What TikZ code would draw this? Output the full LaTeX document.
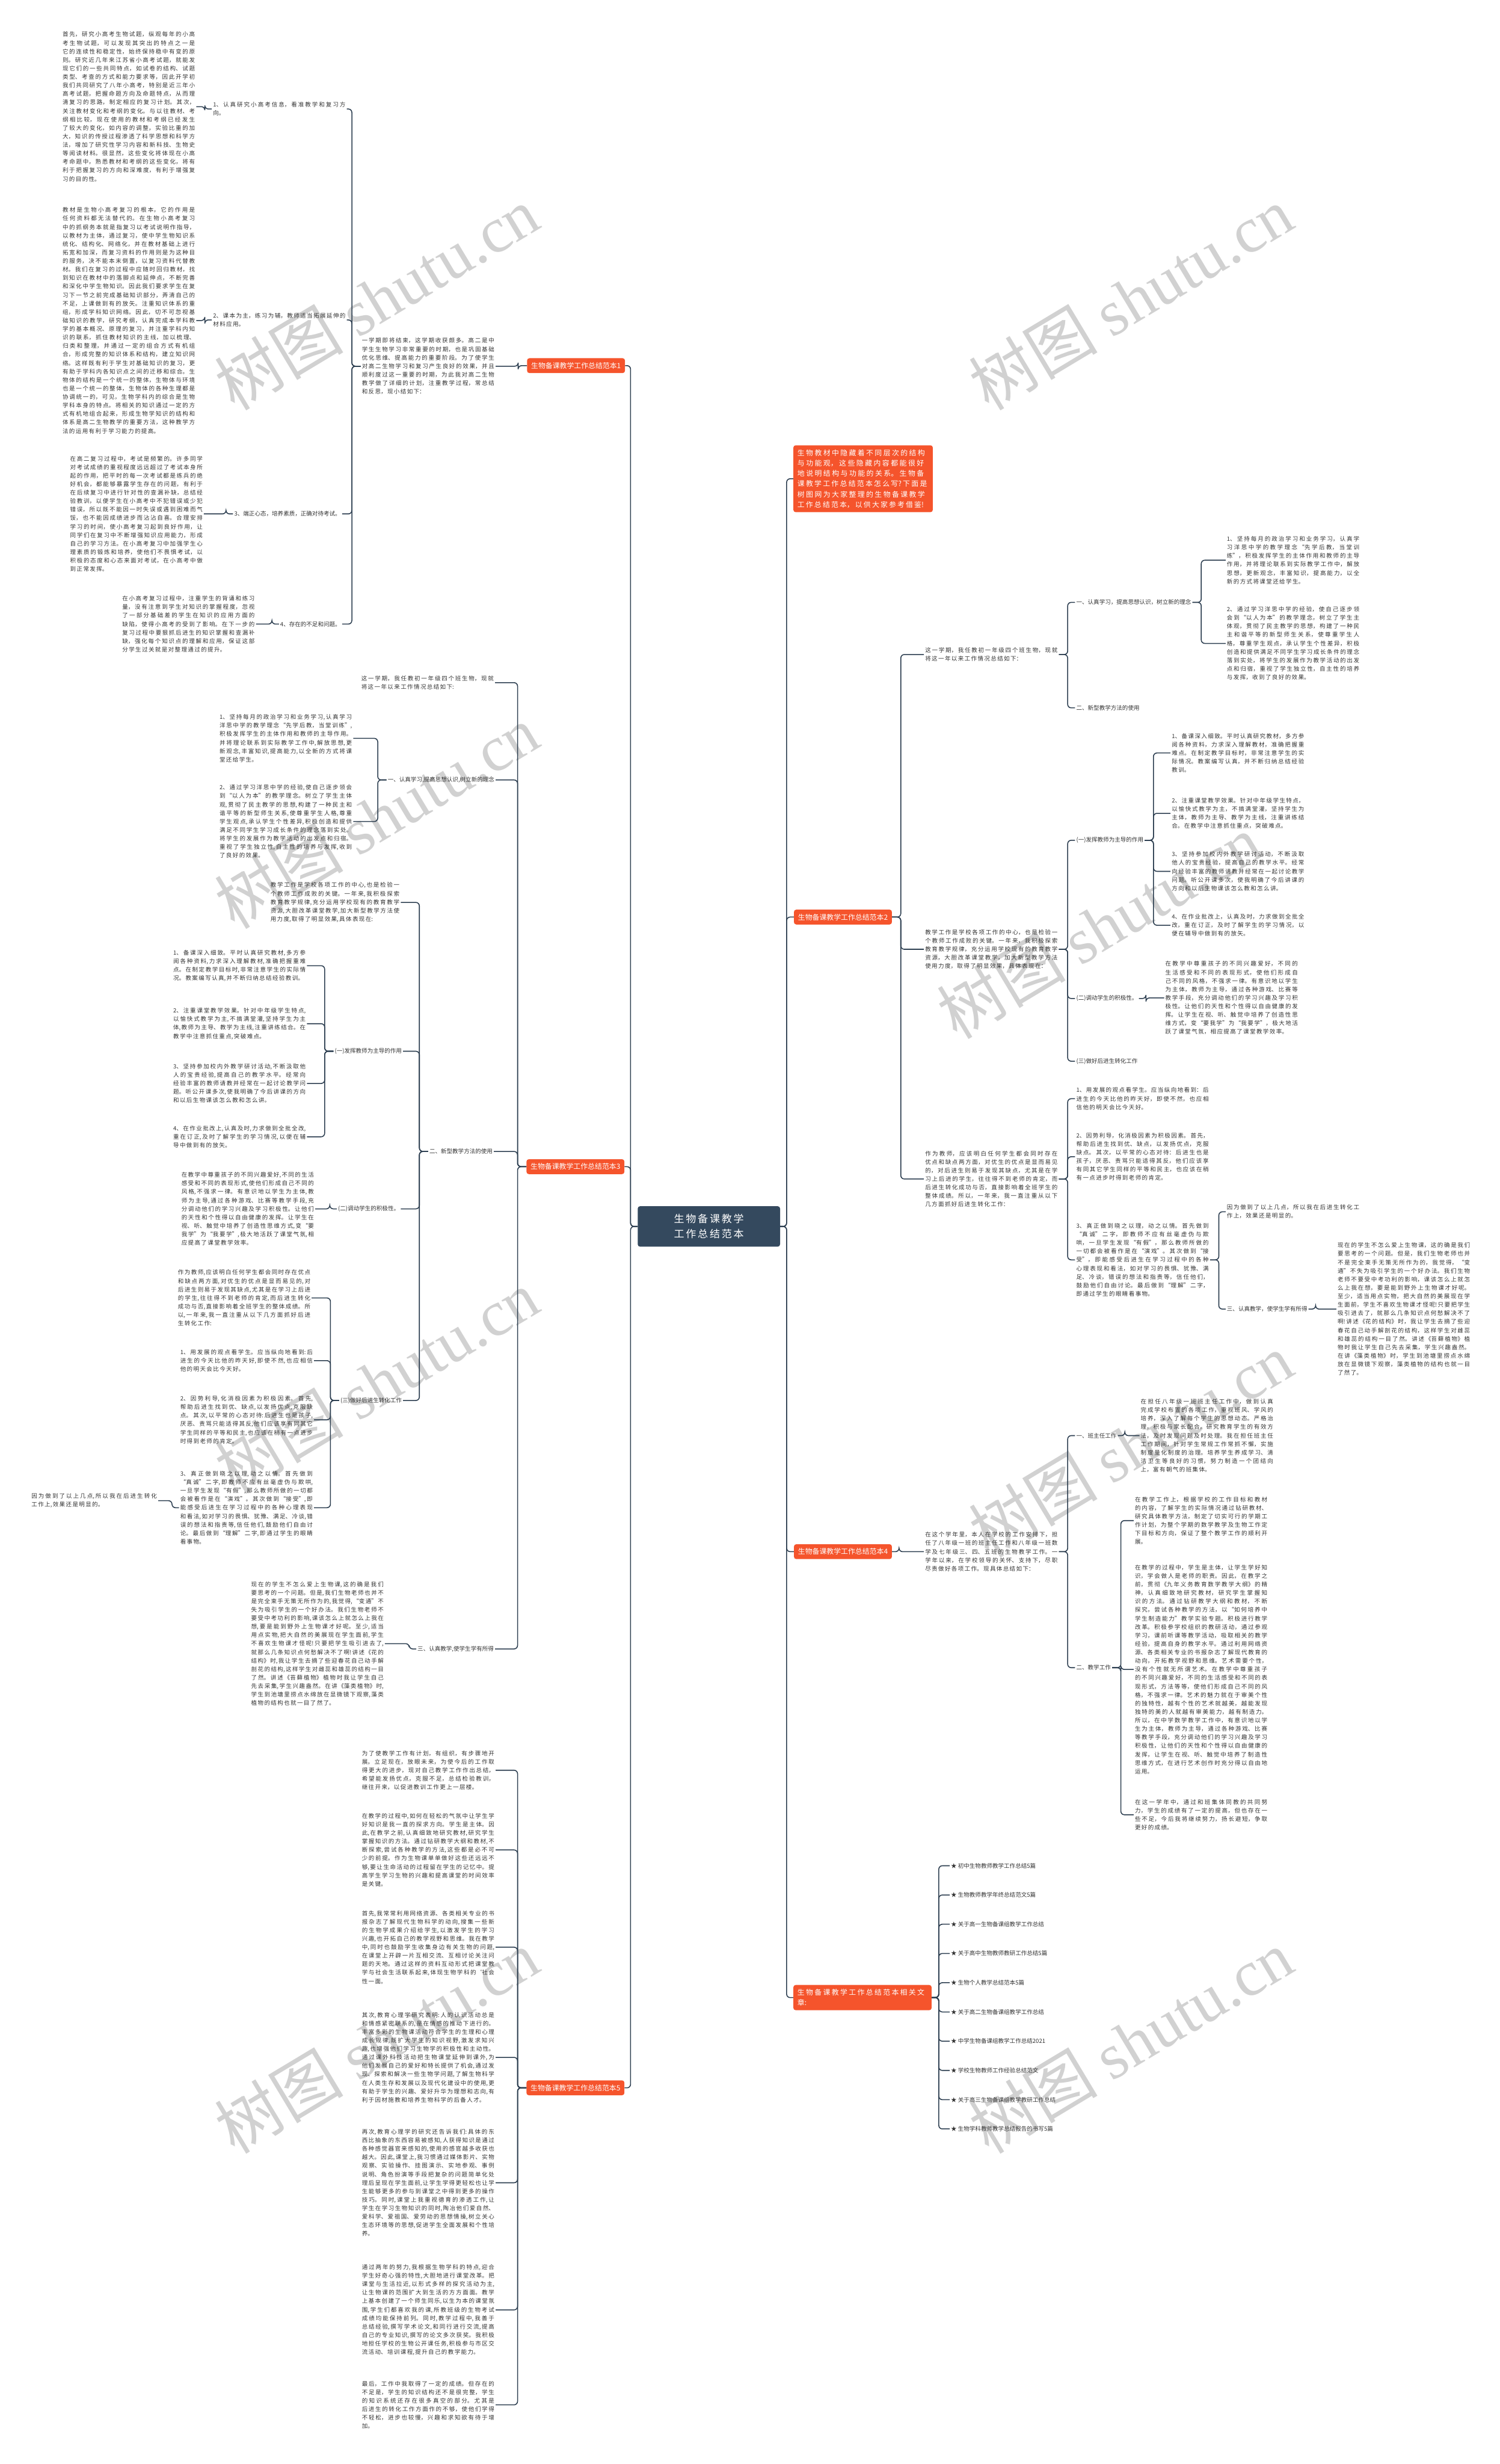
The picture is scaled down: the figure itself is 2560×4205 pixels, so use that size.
\documentclass[tikz,border=0pt]{standalone}
\usepackage{fontspec}
\setmainfont{Noto Sans CJK SC}
\newfontfamily\wmlatin{Liberation Serif}
\XeTeXlinebreaklocale "zh"
\XeTeXlinebreakskip=0pt plus 1pt
\usetikzlibrary{positioning}

\definecolor{rootblue}{RGB}{52,73,94}
\definecolor{branchred}{RGB}{245,84,44}
\definecolor{linkdark}{RGB}{44,62,80}

% spacing between CJK characters
\newcommand\cjkgap[1]{\XeTeXlinebreakskip #1\relax}

\tikzset{
  root/.style={fill=rootblue, text=white, rounded corners=4pt, align=center,
    text width=212pt, minimum width=243pt, minimum height=69pt,
    font=\fontsize{17.5}{26}\selectfont\cjkgap{1.5pt plus 1pt}},
  branch/.style={fill=branchred, text=white, rounded corners=4pt,
    inner xsep=7pt, inner ysep=7pt,
    font=\fontsize{12.2}{17.7}\selectfont\cjkgap{2.2pt plus 1pt}},
  para/.style={text width=226pt, align=justify, text=black!80,
    inner xsep=2pt, inner ysep=1pt,
    font=\fontsize{9.8}{14.5}\selectfont\cjkgap{1.4pt plus 1pt}},
  tag/.style={text=black!80, inner xsep=2pt, inner ysep=1pt,
    font=\fontsize{9.8}{14.5}\selectfont\cjkgap{1.4pt plus 1pt}},
  link/.style={draw=linkdark, line width=1.6pt, rounded corners=6pt},
  wmtext/.style={text=black!18, rotate=31, font=\fontsize{110}{110}\selectfont}
}

\begin{document}
\begin{tikzpicture}[x=1pt,y=-1pt]
  \useasboundingbox (0,0) rectangle (2560,4205);

  % watermarks
  \foreach \wx/\wy in {643/509, 1930/509, 643/1394, 1876/1581, 643/2358, 1930/2466, 643/3484, 1930/3484}
    \node[wmtext] (wm) at (\wx,\wy) {树图 {\wmlatin shutu.cn}};

  % centre
  \node[root] (root) at (1210,2093) {生物备课教学工作总结范本};

  % ---------------- left side ----------------
  \node[branch, anchor=east] (b1) at (1067,624) {生物备课教学工作总结范本1};
  \node[branch, anchor=east] (b3) at (1066,1991) {生物备课教学工作总结范本3};
  \node[branch, anchor=east] (b5) at (1066,3563) {生物备课教学工作总结范本5};

  % branch 1
  \node[para, anchor=east] (b1lead) at (846,625) {一学期即将结束，这学期收获颇多。高二是中学生生物学习非常重要的时期，也是巩固基础优化思维、提高能力的重要阶段。为了使学生对高二生物学习和复习产生良好的效果，并且顺利度过这一重要的时期，为此我对高二生物教学做了详细的计划，注重教学过程，常总结和反思，现小结如下：};
  \node[para, anchor=east] (b1i1) at (592,186) {1、认真研究小高考信息，看准教学和复习方向。};
  \node[para, anchor=east] (b1i2) at (592,546) {2、课本为主，练习为辅，教师适当拓展延伸的材料应用。};
  \node[tag, anchor=east] (b1i3) at (584,877) {3、端正心态，培养素质，正确对待考试。};
  \node[tag, anchor=east] (b1i4) at (584,1065) {4、存在的不足和问题。};
  \node[para, anchor=east] (p1) at (335,182) {首先，研究小高考生物试题，纵观每年的小高考生物试题，可以发现其突出的特点之一是它的连续性和稳定性，始终保持稳中有变的原则。研究近几年来江苏省小高考试题，就能发现它们的一些共同特点，如试卷的结构、试题类型、考查的方式和能力要求等，因此开学初我们共同研究了八年小高考，特别是近三年小高考试题，把握命题方向及命题特点，从而理清复习的思路，制定相应的复习计划。其次，关注教材变化和考纲的变化。与以往教材、考纲相比较，现在使用的教材和考纲已经发生了较大的变化，如内容的调整，实验比重的加大，知识的传授过程渗透了科学思想和科学方法，增加了研究性学习内容和新科技、生物史等阅读材料。很显然，这些变化将体现在小高考命题中，熟悉教材和考纲的这些变化，将有利于把握复习的方向和深难度，有利于增强复习的目的性。};
  \node[para, anchor=east] (p2) at (335,547) {教材是生物小高考复习的根本，它的作用是任何资料都无法替代的。在生物小高考复习中的抓纲务本就是指复习以考试说明作指导，以教材为主体，通过复习，使中学生物知识系统化、结构化、网络化，并在教材基础上进行拓宽和加深，而复习资料的作用则是为这种目的服务，决不能本末倒置，以复习资料代替教材。我们在复习的过程中应随时回归教材，找到知识在教材中的落脚点和延伸点，不断完善和深化中学生物知识。因此我们要求学生在复习下一节之前完成基础知识部分，弄清自己的不足，上课做到有的放矢。注重知识体系的重组，形成学科知识网络。因此，切不可忽视基础知识的教学，研究考纲，认真完成本学科教学的基本概况、原理的复习，并注重学科内知识的联系，抓住教材知识的主线，加以梳理、归类和整理，并通过一定的组合方式有机组合，形成完整的知识体系和结构，建立知识网络。这样既有利于学生对基础知识的复习，更有助于学科内各知识点之间的迁移和综合。生物体的结构是一个统一的整体，生物体与环境也是一个统一的整体，生物体的各种生理都是协调统一的，可见，生物学科内的综合是生物学科本身的特点。将相关的知识通过一定的方式有机地组合起来，形成生物学知识的结构和体系是高二生物教学的重要方法，这种教学方法的运用有利于学习能力的提高。};
  \node[para, anchor=east] (p3) at (348,877) {在高二复习过程中，考试是频繁的。许多同学对考试成绩的重视程度远远超过了考试本身所起的作用，把平时的每一次考试都是练兵的绝好机会，都能够暴露学生存在的问题，有利于在后续复习中进行针对性的查漏补缺，总结经验教训，以便学生在小高考中不犯错误或少犯错误，所以既不能因一时失误或遇到困难而气馁，也不能因成绩进步而沾沾自喜。合理安排学习的时间，使小高考复习起到良好作用，让同学们在复习中不断增强知识应用能力，形成自己的学习方法。在小高考复习中加强学生心理素质的锻炼和培养，使他们不畏惧考试，以积极的态度和心态来面对考试，在小高考中做到正常发挥。};
  \node[para, anchor=east] (p4) at (437,1065) {在小高考复习过程中，注重学生的背诵和练习量，没有注意到学生对知识的掌握程度，忽视了一部分基础差的学生在知识的应用方面的缺陷，使得小高考的受到了影响。在下一步的复习过程中要狠抓后进生的知识掌握和查漏补缺，强化每个知识点的理解和应用，保证这部分学生过关就是对整理通过的提升。};

  % branch 3
  \node[para, anchor=east] (b3a) at (845,1165) {这一学期，我任教初一年级四个班生物，现就将这一年以来工作情况总结如下:};
  \node[tag, anchor=east] (b3b) at (846,1331) {一、认真学习,提高思想认识,树立新的理念};
  \node[para, anchor=east] (b3b1) at (603,1260) {1、坚持每月的政治学习和业务学习,认真学习洋思中学的教学理念“先学后教，当堂训练”,积极发挥学生的主体作用和教师的主导作用。并将理论联系到实际教学工作中,解放思想,更新观念,丰富知识,提高能力,以全新的方式将课堂还给学生。};
  \node[para, anchor=east] (b3b2) at (603,1402) {2、通过学习洋思中学的经验,使自己逐步领会到“以人为本”的教学理念。树立了学生主体观,贯彻了民主教学的思想,构建了一种民主和谐平等的新型师生关系,使尊重学生人格,尊重学生观点,承认学生个性差异,积极创造和提供满足不同学生学习成长条件的理念落到实处。将学生的发展作为教学活动的出发点和归宿。重视了学生独立性,自主性的培养与发挥,收到了良好的效果。};
  \node[tag, anchor=east] (b3c) at (843,1965) {二、新型教学方法的使用};
  \node[para, text width=220pt, anchor=east] (b3c0) at (684,1540) {教学工作是学校各项工作的中心,也是检验一个教师工作成败的关键。一年来,我积极探索教育教学规律,充分运用学校现有的教育教学资源,大胆改革课堂教学,加大新型教学方法使用力度,取得了明显效果,具体表现在:};
  \node[tag, anchor=east] (b3c1) at (688,1794) {(一)发挥教师为主导的作用};
  \node[para, anchor=east] (b3c1a) at (524,1648) {1、备课深入细致。平时认真研究教材,多方参阅各种资料,力求深入理解教材,准确把握重难点。在制定教学目标时,非常注意学生的实际情况。教案编写认真,并不断归纳总结经验教训。};
  \node[para, anchor=east] (b3c1b) at (524,1747) {2、注重课堂教学效果。针对中年级学生特点,以愉快式教学为主,不搞满堂灌,坚持学生为主体,教师为主导、教学为主线,注重讲练结合。在教学中注意抓住重点,突破难点。};
  \node[para, anchor=east] (b3c1c) at (524,1849) {3、坚持参加校内外教学研讨活动,不断汲取他人的宝贵经验,提高自己的教学水平。经常向经验丰富的教师请教并经常在一起讨论教学问题。听公开课多次,使我明确了今后讲课的方向和以后生物课该怎么教和怎么讲。};
  \node[para, anchor=east] (b3c1d) at (524,1940) {4、在作业批改上,认真及时,力求做到全批全改,重在订正,及时了解学生的学习情况,以便在辅导中做到有的放矢。};
  \node[tag, anchor=east] (b3c2) at (684,2063) {(二)调动学生的积极性。};
  \node[para, anchor=east] (b3c2a) at (538,2063) {在教学中尊重孩子的不同兴趣爱好,不同的生活感受和不同的表现形式,使他们形成自己不同的风格,不强求一律。有意识地以学生为主体,教师为主导,通过各种游戏、比赛等教学手段,充分调动他们的学习兴趣及学习积极性。让他们的天性和个性得以自由健康的发挥。让学生在视、听、触觉中培养了创造性思维方式,变“要我学”为“我要学”,极大地活跃了课堂气氛,相应提高了课堂教学效率。};
  \node[tag, anchor=east] (b3c3) at (688,2390) {(三)做好后进生转化工作};
  \node[para, anchor=east] (b3c3a) at (532,2215) {作为教师,应该明白任何学生都会同时存在优点和缺点两方面,对优生的优点是显而易见的,对后进生则易于发现其缺点,尤其是在学习上后进的学生,往往得不到老师的肯定,而后进生转化成功与否,直接影响着全班学生的整体成绩。所以,一年来,我一直注重从以下几方面抓好后进生转化工作:};
  \node[para, anchor=east] (b3c3b) at (536,2322) {1、用发展的观点看学生。应当纵向地看到:后进生的今天比他的昨天好,即使不然,也应相信他的明天会比今天好。};
  \node[para, anchor=east] (b3c3c) at (536,2423) {2、因势利导,化消极因素为积极因素。 首先,帮助后进生找到优、缺点,以发扬优点,克服缺点。 其次,以平常的心态对待:后进生也是孩子,厌恶、责骂只能适得其反,他们应该享有同其它学生同样的平等和民主,也应该在稍有一点进步时得到老师的肯定。};
  \node[para, anchor=east] (b3c3d) at (536,2573) {3、真正做到晓之以理,动之以情。首先做到“真诚”二字,即教师不应有丝毫虚伪与欺哄,一旦学生发现“有假”,那么教师所做的一切都会被看作是在“演戏”。其次做到“接受”,即能感受后进生在学习过程中的各种心理表现和看法,如对学习的畏惧、犹豫、满足、冷谈,错误的想法和指责等,信任他们,鼓励他们自由讨论。最后做到“理解”二字,即通过学生的眼睛看事物。};
  \node[para, text width=214pt, anchor=east] (b3c3e) at (270,2561) {因为做到了以上几点,所以我在后进生转化工作上,效果还是明显的。};
  \node[tag, anchor=east] (b3d) at (845,2814) {三、认真教学,使学生学有所得};
  \node[para, anchor=east] (b3da) at (657,2805) {现在的学生不怎么爱上生物课,这的确是我们要思考的一个问题。但是,我们生物老师也并不是完全束手无策无所作为的,我觉得,“变通”不失为吸引学生的一个好办法。我们生物老师不要受中考功利的影响,课该怎么上就怎么上我在想,要是能到野外上生物课才好呢。至少,适当用点实物,把大自然的美展现在学生面前,学生不喜欢生物课才怪呢!只要把学生吸引进去了,就那么几条知识点何愁解决不了啊!讲述《花的结构》时,我让学生去摘了些迎春花自己动手解剖花的结构,这样学生对雌蕊和雄蕊的结构一目了然。讲述《苔藓植物》植物时我让学生自己先去采集,学生兴趣盎然。在讲《藻类植物》时,学生到池塘里捞点水绵放在显微镜下观察,藻类植物的结构也就一目了然了。};

  % branch 5
  \node[para, anchor=east] (b5a) at (846,3021) {为了使教学工作有计划，有组织，有步骤地开展。立足现在，放眼未来，为使今后的工作取得更大的进步，现对自己教学工作作出总结，希望能发扬优点，克服不足，总结检验教训，继往开来，以促进教训工作更上一层楼。};
  \node[para, anchor=east] (b5b) at (846,3157) {在教学的过程中,如何在轻松的气氛中让学生学好知识是我一直的探求方向。学生是主体。因此,在教学之前,认真细致地研究教材,研究学生掌握知识的方法。通过钻研教学大纲和教材,不断探索,尝试各种教学的方法,这些都是必不可少的前提。作为生物课单单做好这些还远远不够,要让生命活动的过程留在学生的记忆中。提高学生学习生物的兴趣和提高课堂的时间效率是关键。};
  \node[para, anchor=east] (b5c) at (846,3323) {首先,我常常利用网络资源、各类相关专业的书报杂志了解现代生物科学的动向,搜集一些新的生物学成果介绍给学生,以激发学生的学习兴趣,也开拓自己的教学视野和思维。我在教学中,同时也鼓励学生收集身边有关生物的问题,在课堂上开辟一片互相交流、互相讨论关注问题的天地。通过这样的资料互动形式把课堂教学与社会生活联系起来,体现生物学科的‘社会性一面。};
  \node[para, anchor=east] (b5d) at (846,3511) {其次,教育心理学研究表明:人的认识活动总是和情感紧密联系的,是在情感的推动下进行的。丰富多彩的生物课活动符合学生的生理和心理成长规律,既扩大学生的知识视野,激发求知兴趣,也增强他们学习生物学的积极性和主动性。通过课外科技活动把生物课堂延伸到课外,为他们发展自己的爱好和特长提供了机会,通过发现、探索和解决一些生物学问题,了解生物科学在人类生存和发展以及现代化建设中的使用,更有助于学生的兴趣、爱好升华为理想和志向,有利于因材施教和培养生物科学的后备人才。};
  \node[para, anchor=east] (b5e) at (846,3725) {再次,教育心理学的研究还告诉我们:具体的东西比抽象的东西容易被感知,人获得知识是通过各种感觉器官来感知的,使用的感官越多收获也越大。因此,课堂上,我习惯通过媒体影片、实物观察、实验操作、挂图演示、实地参观、事例说明、角色扮演等手段把复杂的问题简单化处理后呈现在学生面前,让学生学得更轻松也让学生能够更多的参与到课堂之中得到更多的操作技巧。同时,课堂上我重视德育的渗透工作,让学生在学习生物知识的同时,陶冶他们爱自然、爱科学、爱祖国、爱劳动的思想情操,树立关心生态环境等的思想,促进学生全面发展和个性培养。};
  \node[para, anchor=east] (b5f) at (846,3942) {通过两年的努力,我根据生物学科的特点,迎合学生好奇心强的特性,大胆地进行课堂改革。把课堂与生活拉近,以形式多样的探究活动为主,让生物课的范围扩大到生活的方方面面。教学上基本创建了一个师生同乐,以生为本的课堂氛围,学生们都喜欢我的课,所教班级的生物考试成绩均能保持前列。同时,教学过程中,我善于总结经验,撰写学术论文,和同行进行交流,提高自己的专业知识,撰写的论文多次获奖。我积极地担任学校的生物公开课任务,积极参与市区交流活动、培训课程,提升自己的教学能力。};
  \node[para, anchor=east] (b5g) at (846,4104) {最后，工作中我取得了一定的成绩。但存在的不足是，学生的知识结构还不是很完整，学生的知识系统还存在很多真空的部分。尤其是后进生的转化工作方面作的不够，使他们学得不轻松，进步也较慢，兴趣和求知欲有待于增加。};

  % ---------------- right side ----------------
  \node[branch, text width=224pt, anchor=west] (intro) at (1354,817) {生物教材中隐藏着不同层次的结构与功能观，这些隐藏内容都能很好地说明结构与功能的关系。生物备课教学工作总结范本怎么写?下面是树图网为大家整理的生物备课教学工作总结范本，以供大家参考借鉴!};
  \node[branch, anchor=west] (b2) at (1355,1565) {生物备课教学工作总结范本2};
  \node[branch, anchor=west] (b4) at (1355,2648) {生物备课教学工作总结范本4};
  \node[branch, text width=222pt, anchor=west] (rel) at (1354,3409) {生物备课教学工作总结范本相关文章:};

  % branch 2
  \node[para, anchor=west] (b2a) at (1577,1117) {这一学期，我任教初一年级四个班生物，现就将这一年以来工作情况总结如下：};
  \node[tag, anchor=west] (b2a1) at (1835,1028) {一、认真学习，提高思想认识，树立新的理念};
  \node[para, anchor=west] (b2a1a) at (2092,956) {1、坚持每月的政治学习和业务学习，认真学习洋思中学的教学理念“先学后教，当堂训练”，积极发挥学生的主体作用和教师的主导作用，并将理论联系到实际教学工作中，解放思想，更新观念，丰富知识，提高能力，以全新的方式将课堂还给学生。};
  \node[para, anchor=west] (b2a1b) at (2092,1098) {2、通过学习洋思中学的经验，使自己逐步领会到“以人为本”的教学理念，树立了学生主体观，贯彻了民主教学的思想，构建了一种民主和谐平等的新型师生关系，使尊重学生人格，尊重学生观点，承认学生个性差异，积极创造和提供满足不同学生学习成长条件的理念落到实处，将学生的发展作为教学活动的出发点和归宿，重视了学生独立性，自主性的培养与发挥，收到了良好的效果。};
  \node[tag, anchor=west] (b2a2) at (1835,1208) {二、新型教学方法的使用};
  \node[para, anchor=west] (b2b) at (1577,1620) {教学工作是学校各项工作的中心，也是检验一个教师工作成败的关键。一年来，我积极探索教育教学规律，充分运用学校现有的教育教学资源，大胆改革课堂教学，加大新型教学方法使用力度，取得了明显效果，具体表现在：};
  \node[tag, anchor=west] (b2b1) at (1835,1434) {(一)发挥教师为主导的作用};
  \node[para, anchor=west] (b2b1a) at (1998,1285) {1、备课深入细致。平时认真研究教材，多方参阅各种资料，力求深入理解教材，准确把握重难点。在制定教学目标时，非常注意学生的实际情况。教案编写认真，并不断归纳总结经验教训。};
  \node[para, anchor=west] (b2b1b) at (1998,1388) {2、注重课堂教学效果。针对中年级学生特点，以愉快式教学为主，不搞满堂灌，坚持学生为主体，教师为主导、教学为主线，注重讲练结合。在教学中注意抓住重点，突破难点。};
  \node[para, anchor=west] (b2b1c) at (1998,1487) {3、坚持参加校内外教学研讨活动，不断汲取他人的宝贵经验，提高自己的教学水平。经常向经验丰富的教师请教并经常在一起讨论教学问题。听公开课多次，使我明确了今后讲课的方向和以后生物课该怎么教和怎么讲。};
  \node[para, anchor=west] (b2b1d) at (1998,1579) {4、在作业批改上，认真及时，力求做到全批全改，重在订正，及时了解学生的学习情况，以便在辅导中做到有的放矢。};
  \node[tag, anchor=west] (b2b2) at (1835,1704) {(二)调动学生的积极性。};
  \node[para, anchor=west] (b2b2a) at (1987,1703) {在教学中尊重孩子的不同兴趣爱好，不同的生活感受和不同的表现形式，使他们形成自己不同的风格，不强求一律。有意识地以学生为主体，教师为主导，通过各种游戏、比赛等教学手段，充分调动他们的学习兴趣及学习积极性。让他们的天性和个性得以自由健康的发挥。让学生在视、听、触觉中培养了创造性思维方式，变“要我学”为“我要学”，极大地活跃了课堂气氛，相应提高了课堂教学效率。};
  \node[tag, anchor=west] (b2b3) at (1835,1811) {(三)做好后进生转化工作};
  \node[para, anchor=west] (b2c) at (1577,2012) {作为教师，应该明白任何学生都会同时存在优点和缺点两方面，对优生的优点是显而易见的，对后进生则易于发现其缺点，尤其是在学习上后进的学生，往往得不到老师的肯定，而后进生转化成功与否，直接影响着全班学生的整体成绩。所以，一年来，我一直注重从以下几方面抓好后进生转化工作：};
  \node[para, anchor=west] (b2c1) at (1835,1875) {1、用发展的观点看学生。应当纵向地看到：后进生的今天比他的昨天好，即使不然，也应相信他的明天会比今天好。};
  \node[para, anchor=west] (b2c2) at (1835,1974) {2、因势利导，化消极因素为积极因素。 首先，帮助后进生找到优、缺点，以发扬优点，克服缺点。 其次，以平常的心态对待：后进生也是孩子，厌恶、责骂只能适得其反，他们应该享有同其它学生同样的平等和民主，也应该在稍有一点进步时得到老师的肯定。};
  \node[para, anchor=west] (b2c3) at (1835,2150) {3、真正做到晓之以理，动之以情。首先做到“真诚”二字，即教师不应有丝毫虚伪与欺哄，一旦学生发现“有假”，那么教师所做的一切都会被看作是在“演戏”。其次做到“接受”，即能感受后进生在学习过程中的各种心理表现和看法，如对学习的畏惧、犹豫、满足、冷谈，错误的想法和指责等，信任他们，鼓励他们自由讨论。最后做到“理解”二字，即通过学生的眼睛看事物。};
  \node[para, anchor=west] (b2c3a) at (2092,2068) {因为做到了以上几点，所以我在后进生转化工作上，效果还是明显的。};
  \node[tag, anchor=west] (b2c3b) at (2092,2234) {三、认真教学，使学生学有所得};
  \node[para, anchor=west] (b2c3c) at (2281,2234) {现在的学生不怎么爱上生物课，这的确是我们要思考的一个问题。但是，我们生物老师也并不是完全束手无策无所作为的，我觉得，“变通”不失为吸引学生的一个好办法。我们生物老师不要受中考功利的影响，课该怎么上就怎么上我在想，要是能到野外上生物课才好呢。至少，适当用点实物，把大自然的美展现在学生面前，学生不喜欢生物课才怪呢!只要把学生吸引进去了，就那么几条知识点何愁解决不了啊!讲述《花的结构》时，我让学生去摘了些迎春花自己动手解剖花的结构，这样学生对雌蕊和雄蕊的结构一目了然。讲述《苔藓植物》植物时我让学生自己先去采集，学生兴趣盎然。在讲《藻类植物》时，学生到池塘里捞点水绵放在显微镜下观察，藻类植物的结构也就一目了然了。};

  % branch 4
  \node[para, anchor=west] (b4a) at (1577,2648) {在这个学年里，本人在学校的工作安排下，担任了八年级一班的班主任工作和八年级一班数学及七年级三、四、五班的生物教学工作。一学年以来，在学校领导的关怀、支持下，尽职尽责做好各项工作。现具体总结如下：};
  \node[tag, anchor=west] (b4a1) at (1835,2450) {一、班主任工作};
  \node[para, anchor=west] (b4a1a) at (1945,2450) {在担任八年级一班班主任工作中，做到认真完成学校布置的各项工作，重视班风、学风的培养，深入了解每个学生的思想动态。严格治理，积极与家长配合，研究教育学生的有效方法，及时发现问题及时处理。我在担任班主任工作期间，针对学生常规工作常抓不懈，实施制度量化制度的治理。培养学生养成学习、清洁卫生等良好的习惯，努力制造一个团结向上，富有朝气的班集体。};
  \node[tag, anchor=west] (b4a2) at (1835,2846) {二、教学工作};
  \node[para, anchor=west] (b4a2a) at (1935,2595) {在教学工作上，根据学校的工作目标和教材的内容，了解学生的实际情况通过钻研教材、研究具体教学方法，制定了切实可行的学期工作计划，为整个学期的数学教学及生物工作定下目标和方向，保证了整个教学工作的顺利开展。};
  \node[para, anchor=west] (b4a2b) at (1935,2849) {在教学的过程中，学生是主体，让学生学好知识，学会做人是老师的职责。因此，在教学之前，贯彻《九年义务教育数学教学大纲》的精神，认真细致地研究教材，研究学生掌握知识的方法。通过钻研教学大纲和教材，不断探究，尝试各种教学的方法，以“如何培养中学生制造能力”教学实验专题。积极进行教学改革。积极参学校组织的教研活动，通过参观学习，课前听课等教学活动，吸取相关的教学经验，提高自身的教学水平。通过利用网络资源、各类相关专业的书报杂志了解现代教育的动向，开拓教学视野和思维。艺术需要个性，没有个性就无所谓艺术。在教学中尊重孩子的不同兴趣爱好，不同的生活感受和不同的表现形式，方法等等，使他们形成自己不同的风格，不强求一律。艺术的魅力就在于审美个性的独特性，越有个性的艺术就越美，越能发现独特的美的人就越有审美能力，越有制造力。所以，在中学数学教学工作中，有意识地以学生为主体，教师为主导，通过各种游戏、比赛等教学手段，充分调动他们的学习兴趣及学习积极性，让他们的天性和个性得以自由健康的发挥，让学生在视、听、触觉中培养了制造性思维方式，在进行艺术创作时充分得以自由地运用。};
  \node[para, anchor=west] (b4a2c) at (1935,3097) {在这一学年中，通过和班集体同教的共同努力，学生的成绩有了一定的提高，但也存在一些不足，今后我将继续努力，扬长避短，争取更好的成绩。};

  % related articles
  \foreach \t [count=\i from 0] in {初中生物教师教学工作总结5篇, 生物教师教学年终总结范文5篇, 关于高一生物备课组教学工作总结, 关于高中生物教师教研工作总结5篇, 生物个人教学总结范本5篇, 关于高二生物备课组教学工作总结, 中学生物备课组教学工作总结2021, 学校生物教师工作经验总结范文, 关于高三生物备课组教学教研工作总结, 生物学科教师教学总结报告的书写5篇}
    \node[tag, anchor=west] (rel\i) at (1621,3184+49.9*\i) {★ \t};

  % ---------------- connectors ----------------
  \draw[link] (root.west) -- ++(-12,0) |- (b1.east);
  \draw[link] (root.west) -- ++(-12,0) |- (b3.east);
  \draw[link] (root.west) -- ++(-12,0) |- (b5.east);
  \draw[link] (root.east) -- ++(11,0) |- (intro.west);
  \draw[link] (root.east) -- ++(11,0) |- (b2.west);
  \draw[link] (root.east) -- ++(11,0) |- (b4.west);
  \draw[link] (root.east) -- ++(11,0) |- (rel.west);

  \draw[link] (b1.west) -- ++(-15,0) |- (b1lead.east);
  \foreach \c in {b1i1,b1i2,b1i3,b1i4}
    \draw[link] (b1lead.west) -- ++(-15,0) |- (\c.east);
  \draw[link] (b1i1.west) -- ++(-12,0) |- (p1.east);
  \draw[link] (b1i2.west) -- ++(-12,0) |- (p2.east);
  \draw[link] (b1i3.west) -- ++(-12,0) |- (p3.east);
  \draw[link] (b1i4.west) -- ++(-12,0) |- (p4.east);

  \foreach \c in {b3a,b3b,b3c,b3d}
    \draw[link] (b3.west) -- ++(-15,0) |- (\c.east);
  \foreach \c in {b3b1,b3b2}
    \draw[link] (b3b.west) -- ++(-15,0) |- (\c.east);
  \foreach \c in {b3c0,b3c1,b3c2,b3c3}
    \draw[link] (b3c.west) -- ++(-15,0) |- (\c.east);
  \foreach \c in {b3c1a,b3c1b,b3c1c,b3c1d}
    \draw[link] (b3c1.west) -- ++(-15,0) |- (\c.east);
  \draw[link] (b3c2.west) -- ++(-12,0) |- (b3c2a.east);
  \foreach \c in {b3c3a,b3c3b,b3c3c,b3c3d}
    \draw[link] (b3c3.west) -- ++(-15,0) |- (\c.east);
  \draw[link] (b3c3d.west) -- ++(-12,0) |- (b3c3e.east);
  \draw[link] (b3d.west) -- ++(-12,0) |- (b3da.east);

  \foreach \c in {b5a,b5b,b5c,b5d,b5e,b5f,b5g}
    \draw[link] (b5.west) -- ++(-15,0) |- (\c.east);

  \foreach \c in {b2a,b2b,b2c}
    \draw[link] (b2.east) -- ++(15,0) |- (\c.west);
  \foreach \c in {b2a1,b2a2}
    \draw[link] (b2a.east) -- ++(15,0) |- (\c.west);
  \foreach \c in {b2a1a,b2a1b}
    \draw[link] (b2a1.east) -- ++(15,0) |- (\c.west);
  \foreach \c in {b2b1,b2b2,b2b3}
    \draw[link] (b2b.east) -- ++(15,0) |- (\c.west);
  \foreach \c in {b2b1a,b2b1b,b2b1c,b2b1d}
    \draw[link] (b2b1.east) -- ++(15,0) |- (\c.west);
  \draw[link] (b2b2.east) -- ++(12,0) |- (b2b2a.west);
  \foreach \c in {b2c1,b2c2,b2c3}
    \draw[link] (b2c.east) -- ++(15,0) |- (\c.west);
  \foreach \c in {b2c3a,b2c3b}
    \draw[link] (b2c3.east) -- ++(15,0) |- (\c.west);
  \draw[link] (b2c3b.east) -- ++(12,0) |- (b2c3c.west);

  \draw[link] (b4.east) -- ++(12,0) |- (b4a.west);
  \foreach \c in {b4a1,b4a2}
    \draw[link] (b4a.east) -- ++(15,0) |- (\c.west);
  \draw[link] (b4a1.east) -- ++(12,0) |- (b4a1a.west);
  \foreach \c in {b4a2a,b4a2b,b4a2c}
    \draw[link] (b4a2.east) -- ++(15,0) |- (\c.west);

  \foreach \i in {0,...,9}
    \draw[link] (rel.east) -- ++(12,0) |- (rel\i.west);
\end{tikzpicture}
\end{document}
